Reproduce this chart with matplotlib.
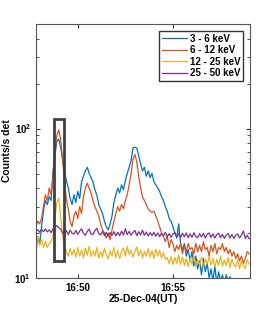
import numpy as np
import matplotlib
matplotlib.use('Agg')
from matplotlib import pyplot as plt
from matplotlib.patches import Rectangle
from matplotlib.ticker import LogLocator, NullFormatter, FixedLocator, FixedFormatter

plt.rcParams['font.family'] = ['Liberation Sans', 'DejaVu Sans']
plt.rcParams['font.weight'] = 'bold'

# time in minutes after 16:00 UT, 6 s cadence
t = np.arange(113) * 0.1 + 47.8

ch_3_6 = [15, 19, 17, 22, 28, 33, 31, 35, 33, 52,
          66, 82, 85, 75, 62, 52, 45, 40, 34, 31,
          36, 32, 38, 34, 44, 48, 52, 55, 50, 47,
          44, 39, 36, 31, 29, 27, 24, 22, 21, 23,
          26, 32, 36, 40, 37, 42, 39, 45, 50, 55,
          61, 74, 75, 74, 66, 58, 52, 55, 48, 52,
          47, 50, 44, 42, 40, 38, 35, 33, 30, 28,
          25, 24, 22, 20, 18.5, 23, 17, 15.5, 17, 14,
          15.5, 13, 15, 12, 14, 11.5, 13, 10.5, 13.5, 11,
          12.5, 10, 11.5, 9.5, 12, 9.2, 11, 9.5, 10.5, 9,
          10.5, 9.5, 10.2, 8.5, 8, 8, 8, 8, 8, 8,
          8, 8, 8]
ch_6_12 = [22, 24, 23, 25, 30, 36, 33, 40, 36, 48,
           70, 90, 98, 85, 62, 45, 34, 29, 24, 22,
           26, 28, 25, 30, 27, 35, 40, 43, 40, 37,
           33, 30, 28, 26, 23, 21, 20, 18.5, 20, 18,
           21, 24, 27, 30, 28, 31, 29, 33, 36, 42,
           50, 62, 67, 60, 48, 40, 35, 33, 31, 29,
           28, 27.5, 28, 26, 24, 22, 20, 19, 17.5, 19,
           16, 18, 17, 15, 16.5, 15.5, 17, 14.5, 16.5, 15,
           17, 15.5, 16, 14.5, 17, 15, 16.5, 15, 17.5, 15.5,
           16, 14, 16.5, 15, 17, 14.5, 16, 15.5, 17, 15,
           16, 14.5, 15.5, 14, 15, 13.5, 14.5, 13, 14, 12.5,
           13.5, 15, 14.5]
ch_12_25 = [16, 19, 16.5, 18, 16, 17.5, 16, 17, 17.5, 19,
            25, 32, 34, 26, 19, 16, 15, 14, 15.8, 14.2,
            15.5, 13.8, 16, 14, 15.4, 13.6, 15.8, 14.2, 16.3, 13.9,
            15.2, 14, 16, 13.6, 15, 13.8, 15.8, 14.3, 13.4, 15.2,
            14, 16, 13.7, 15.3, 13.5, 14.9, 15.9, 14, 16.2, 14.3,
            15.3, 13.8, 15.1, 16.1, 14, 15.4, 13.6, 15, 14, 15.7,
            13.8, 15.2, 13.5, 15.6, 14, 15.3, 13.6, 14.8, 13.3, 13.7,
            12.5, 13.9, 12.3, 13.7, 12.5, 14.3, 12.3, 13.8, 12.1, 13.5,
            11.9, 13.6, 12.3, 14.1, 12, 13.3, 12.2, 13.8, 11.9, 13.4,
            12.4, 13.9, 12.1, 13.5, 11.8, 13.3, 12.2, 14, 12, 13.2,
            12.1, 13.7, 11.7, 13.4, 12.3, 11.9, 13.3, 11.5, 13.1, 11.9,
            11.6, 13.2, 12.4]
ch_25_50 = [20.5, 21, 20.2, 21.1, 20.4, 21.3, 20.3, 21, 20.1, 21.3,
            21.6, 22.4, 21.7, 21.2, 20.1, 19.6, 20.8, 19.5, 20.9, 19.9,
            19.7, 20.8, 19.6, 20.6, 21.3, 19.8, 19.3, 20.5, 21.2, 19.7,
            19.5, 20.7, 21.5, 19.8, 19.4, 20.5, 19.2, 20.2, 19, 20.1,
            19.3, 20.4, 19.1, 20.2, 19.2, 20.6, 19.4, 21.3, 19.5, 20.5,
            19.3, 20.2, 20.8, 19.2, 20.4, 19.4, 20.9, 19.3, 20.3, 19.1,
            20.1, 19.2, 20.2, 19, 20, 18.9, 19.9, 19.1, 20.2, 18.8,
            19.8, 18.7, 19.7, 20.1, 18.8, 19.8, 18.6, 19.9, 18.9, 20,
            18.6, 19.7, 18.7, 20.1, 18.9, 18.6, 19.8, 18.8, 19.9, 18.5,
            19.6, 20, 18.7, 19.7, 18.5, 19.5, 19.9, 18.6, 19.6, 18.4,
            19.4, 19.8, 18.5, 19.5, 18.4, 19.3, 19.7, 18.5, 19.4, 20.6,
            18.4, 19.3, 18.3]

labels = ['3 - 6 keV', '6 - 12 keV', '12 - 25 keV', '25 - 50 keV']
colors = ['#0072BD', '#D95319', '#EDB120', '#7E2F8E']

fig = plt.figure(figsize=(2.76, 3.13), dpi=100)
ax = fig.add_axes([0.130, 0.112, 0.776, 0.811])

for y, lab, c in zip([ch_3_6, ch_6_12, ch_12_25, ch_25_50], labels, colors):
    ax.plot(t, y, color=c, lw=0.9, label=lab)

ax.set_yscale('log')
ax.set_ylim(10, 500)
ax.set_xlim(47.8, 59.05)

# box around the first peak
ax.add_patch(Rectangle((48.74, 13.0), 0.54, 102, fill=False,
                       edgecolor='#404040', lw=2.0, zorder=5))

ax.xaxis.set_major_locator(FixedLocator([50, 55]))
ax.xaxis.set_major_formatter(FixedFormatter(['16:50', '16:55']))
ax.yaxis.set_major_locator(LogLocator(base=10))
ax.yaxis.set_minor_locator(LogLocator(base=10, subs=np.arange(2, 10)))
ax.yaxis.set_minor_formatter(NullFormatter())
ax.tick_params(which='both', direction='in', top=True, right=True,
               labelsize=7, color='#333333')
ax.tick_params(which='major', length=3)
ax.tick_params(which='minor', length=2)
for s in ax.spines.values():
    s.set_color('#555555')
    s.set_linewidth(0.8)

ax.set_xlabel('25-Dec-04(UT)', fontsize=7.5, fontweight='bold', labelpad=1)
ax.set_ylabel('Counts/s det', fontsize=7.5, fontweight='bold', labelpad=2)

leg = ax.legend(loc='upper right', fontsize=7, handlelength=2.6,
                labelspacing=0.15, borderpad=0.3, handletextpad=0.3,
                borderaxespad=0.7, fancybox=False, framealpha=1)
leg.get_frame().set_edgecolor('#333333')
leg.get_frame().set_linewidth(1.0)

fig.savefig('out.png', dpi=100)
